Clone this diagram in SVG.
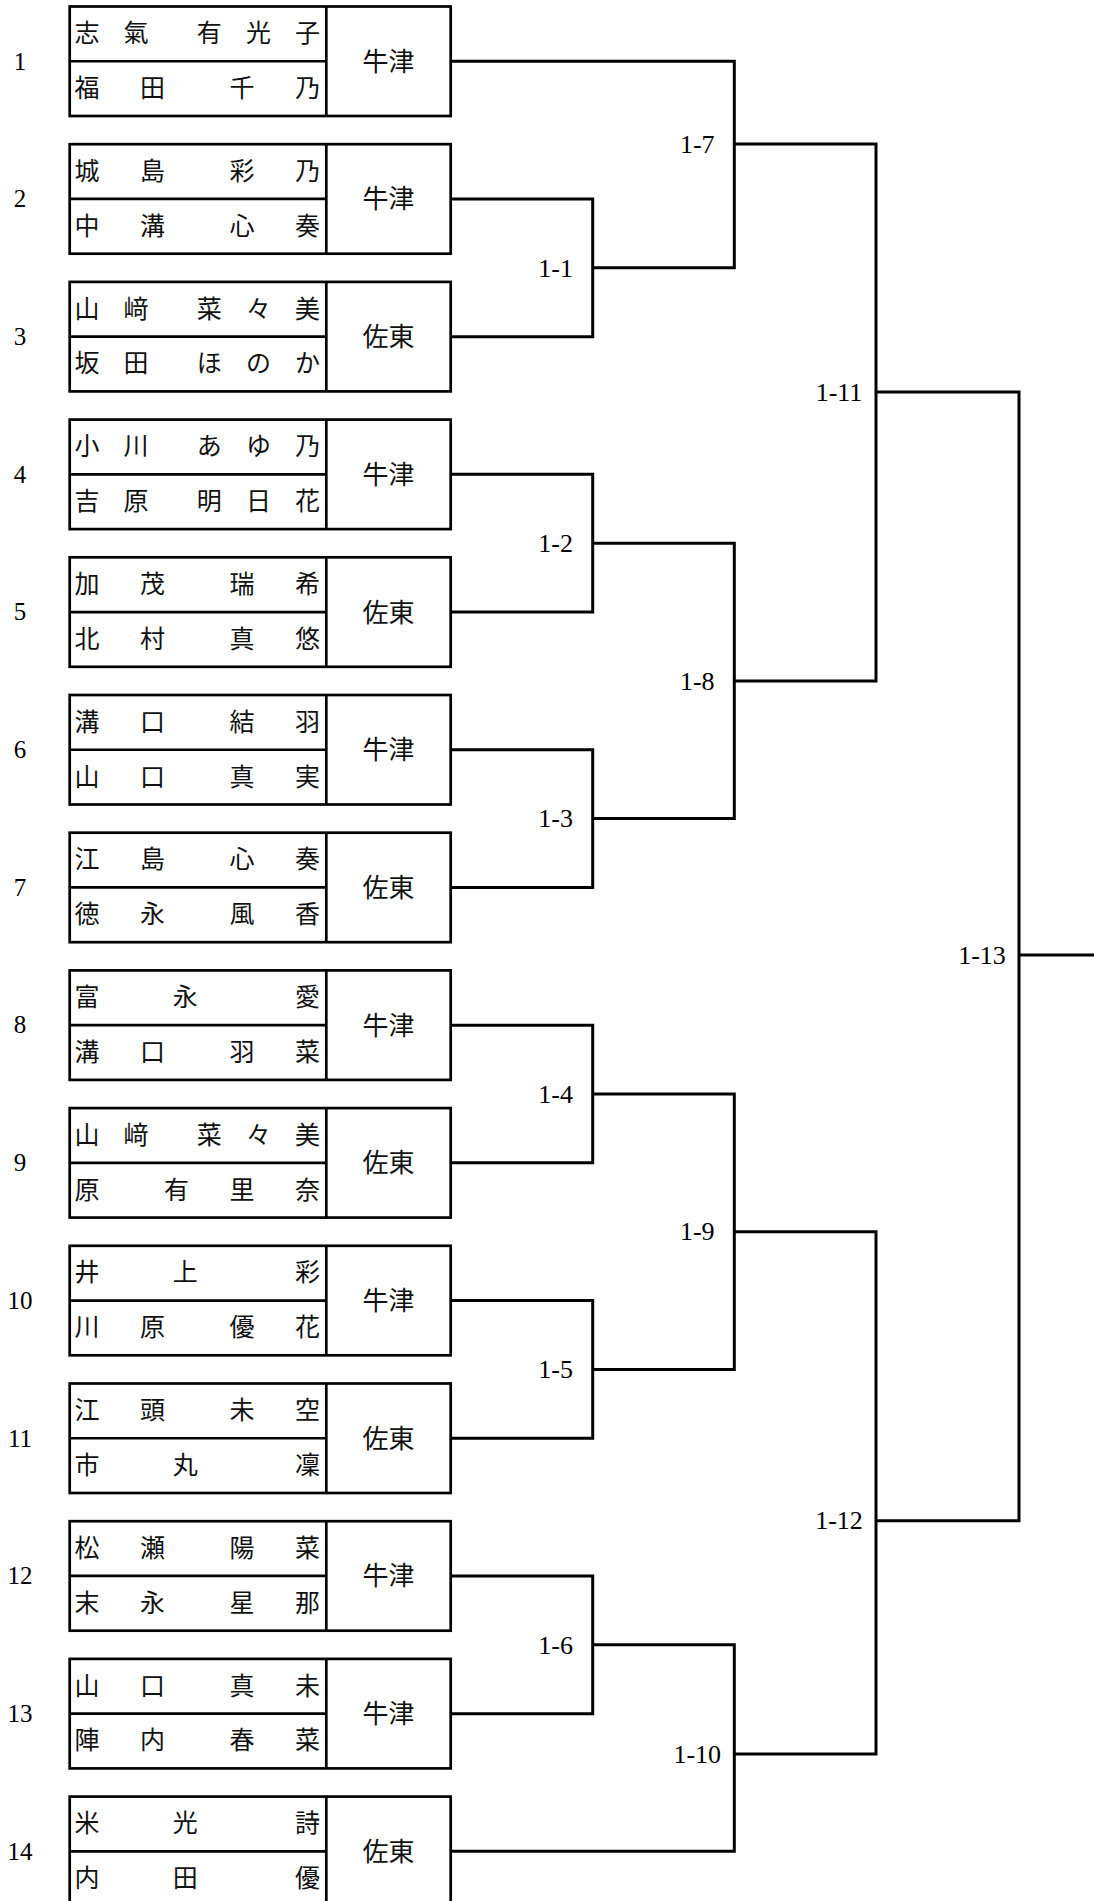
<svg xmlns="http://www.w3.org/2000/svg" width="1094" height="1901" viewBox="0 0 1094 1901">
<style>
.box{fill:#fff;stroke:#000;stroke-width:2.7}
.ln{fill:none;stroke:#000;stroke-width:2.7}
.num{font-family:"Liberation Serif",serif;font-size:25px;fill:#000;text-anchor:middle}
.nm{font-family:"Liberation Serif","Noto Sans CJK JP",serif;font-size:25px;fill:#111}
.tm{font-family:"Liberation Serif","Noto Sans CJK JP",serif;font-size:26px;fill:#111;text-anchor:middle}
.lbl{font-family:"Liberation Serif",serif;font-size:26px;fill:#000;text-anchor:middle}
#connectors path{fill:none;stroke:#000;stroke-width:3}
</style>
<rect width="1094" height="1901" fill="#fff"/>
<g id="connectors">
<path d="M450.7 198.95H592.7V336.65H450.7"/>
<path d="M450.7 474.35H592.7V612.05H450.7"/>
<path d="M450.7 749.75H592.7V887.45H450.7"/>
<path d="M450.7 1025.15H592.7V1162.85H450.7"/>
<path d="M450.7 1300.55H592.7V1438.25H450.7"/>
<path d="M450.7 1575.95H592.7V1713.65H450.7"/>
<path d="M450.7 61.25H734.3V267.8H592.7"/>
<path d="M592.7 543.2H734.3V818.6H592.7"/>
<path d="M592.7 1094H734.3V1369.4H592.7"/>
<path d="M592.7 1644.8H734.3V1851.35H450.7"/>
<path d="M734.3 144H876V680.9H734.3"/>
<path d="M734.3 1231.7H876V1754H734.3"/>
<path d="M876 392H1019V1520.7H876M1019 955H1094"/>
</g>
<g id="match-labels">
<text class="lbl" x="555.7" y="276.5">1-1</text>
<text class="lbl" x="555.7" y="551.9">1-2</text>
<text class="lbl" x="555.7" y="827.3">1-3</text>
<text class="lbl" x="555.7" y="1102.7">1-4</text>
<text class="lbl" x="555.7" y="1378.1">1-5</text>
<text class="lbl" x="555.7" y="1653.5">1-6</text>
<text class="lbl" x="697.3" y="152.7">1-7</text>
<text class="lbl" x="697.3" y="689.6">1-8</text>
<text class="lbl" x="697.3" y="1240.4">1-9</text>
<text class="lbl" x="697.3" y="1762.7">1-10</text>
<text class="lbl" x="839" y="400.7">1-11</text>
<text class="lbl" x="839" y="1529.4">1-12</text>
<text class="lbl" x="982" y="963.7">1-13</text>
</g>
<g id="entry-1" transform="translate(0 6.5)">
<text class="num" x="20" y="63">1</text>
<rect class="box" x="69.7" y="0" width="381" height="109.5"/>
<path class="ln" d="M326.3 0V109.5M69.7 54.75H326.3"/>
<text class="nm" x="74.5 123.6 150 196.75 245.9 295" y="35.7">志氣 有光子</text>
<text class="nm" x="74.5 140 170 229.5 295" y="90.5">福田 千乃</text>
<text class="tm" x="388.5" y="64.25">牛津</text>
</g>
<g id="entry-2" transform="translate(0 144.2)">
<text class="num" x="20" y="63">2</text>
<rect class="box" x="69.7" y="0" width="381" height="109.5"/>
<path class="ln" d="M326.3 0V109.5M69.7 54.75H326.3"/>
<text class="nm" x="74.5 140 170 229.5 295" y="35.7">城島 彩乃</text>
<text class="nm" x="74.5 140 170 229.5 295" y="90.5">中溝 心奏</text>
<text class="tm" x="388.5" y="64.25">牛津</text>
</g>
<g id="entry-3" transform="translate(0 281.9)">
<text class="num" x="20" y="63">3</text>
<rect class="box" x="69.7" y="0" width="381" height="109.5"/>
<path class="ln" d="M326.3 0V109.5M69.7 54.75H326.3"/>
<text class="nm" x="74.5 123.6 150 196.75 245.9 295" y="35.7">山﨑 菜々美</text>
<text class="nm" x="74.5 123.6 150 196.75 245.9 295" y="90.5">坂田 ほのか</text>
<text class="tm" x="388.5" y="64.25">佐東</text>
</g>
<g id="entry-4" transform="translate(0 419.6)">
<text class="num" x="20" y="63">4</text>
<rect class="box" x="69.7" y="0" width="381" height="109.5"/>
<path class="ln" d="M326.3 0V109.5M69.7 54.75H326.3"/>
<text class="nm" x="74.5 123.6 150 196.75 245.9 295" y="35.7">小川 あゆ乃</text>
<text class="nm" x="74.5 123.6 150 196.75 245.9 295" y="90.5">吉原 明日花</text>
<text class="tm" x="388.5" y="64.25">牛津</text>
</g>
<g id="entry-5" transform="translate(0 557.3)">
<text class="num" x="20" y="63">5</text>
<rect class="box" x="69.7" y="0" width="381" height="109.5"/>
<path class="ln" d="M326.3 0V109.5M69.7 54.75H326.3"/>
<text class="nm" x="74.5 140 170 229.5 295" y="35.7">加茂 瑞希</text>
<text class="nm" x="74.5 140 170 229.5 295" y="90.5">北村 真悠</text>
<text class="tm" x="388.5" y="64.25">佐東</text>
</g>
<g id="entry-6" transform="translate(0 695)">
<text class="num" x="20" y="63">6</text>
<rect class="box" x="69.7" y="0" width="381" height="109.5"/>
<path class="ln" d="M326.3 0V109.5M69.7 54.75H326.3"/>
<text class="nm" x="74.5 140 170 229.5 295" y="35.7">溝口 結羽</text>
<text class="nm" x="74.5 140 170 229.5 295" y="90.5">山口 真実</text>
<text class="tm" x="388.5" y="64.25">牛津</text>
</g>
<g id="entry-7" transform="translate(0 832.7)">
<text class="num" x="20" y="63">7</text>
<rect class="box" x="69.7" y="0" width="381" height="109.5"/>
<path class="ln" d="M326.3 0V109.5M69.7 54.75H326.3"/>
<text class="nm" x="74.5 140 170 229.5 295" y="35.7">江島 心奏</text>
<text class="nm" x="74.5 140 170 229.5 295" y="90.5">徳永 風香</text>
<text class="tm" x="388.5" y="64.25">佐東</text>
</g>
<g id="entry-8" transform="translate(0 970.4)">
<text class="num" x="20" y="63">8</text>
<rect class="box" x="69.7" y="0" width="381" height="109.5"/>
<path class="ln" d="M326.3 0V109.5M69.7 54.75H326.3"/>
<text class="nm" x="74.5 172.75 230 295" y="35.7">富永 愛</text>
<text class="nm" x="74.5 140 170 229.5 295" y="90.5">溝口 羽菜</text>
<text class="tm" x="388.5" y="64.25">牛津</text>
</g>
<g id="entry-9" transform="translate(0 1108.1)">
<text class="num" x="20" y="63">9</text>
<rect class="box" x="69.7" y="0" width="381" height="109.5"/>
<path class="ln" d="M326.3 0V109.5M69.7 54.75H326.3"/>
<text class="nm" x="74.5 123.6 150 196.75 245.9 295" y="35.7">山﨑 菜々美</text>
<text class="nm" x="74.5 110 164 229.5 295" y="90.5">原 有里奈</text>
<text class="tm" x="388.5" y="64.25">佐東</text>
</g>
<g id="entry-10" transform="translate(0 1245.8)">
<text class="num" x="20" y="63">10</text>
<rect class="box" x="69.7" y="0" width="381" height="109.5"/>
<path class="ln" d="M326.3 0V109.5M69.7 54.75H326.3"/>
<text class="nm" x="74.5 172.75 230 295" y="35.7">井上 彩</text>
<text class="nm" x="74.5 140 170 229.5 295" y="90.5">川原 優花</text>
<text class="tm" x="388.5" y="64.25">牛津</text>
</g>
<g id="entry-11" transform="translate(0 1383.5)">
<text class="num" x="20" y="63">11</text>
<rect class="box" x="69.7" y="0" width="381" height="109.5"/>
<path class="ln" d="M326.3 0V109.5M69.7 54.75H326.3"/>
<text class="nm" x="74.5 140 170 229.5 295" y="35.7">江頭 未空</text>
<text class="nm" x="74.5 172.75 230 295" y="90.5">市丸 凜</text>
<text class="tm" x="388.5" y="64.25">佐東</text>
</g>
<g id="entry-12" transform="translate(0 1521.2)">
<text class="num" x="20" y="63">12</text>
<rect class="box" x="69.7" y="0" width="381" height="109.5"/>
<path class="ln" d="M326.3 0V109.5M69.7 54.75H326.3"/>
<text class="nm" x="74.5 140 170 229.5 295" y="35.7">松瀬 陽菜</text>
<text class="nm" x="74.5 140 170 229.5 295" y="90.5">末永 星那</text>
<text class="tm" x="388.5" y="64.25">牛津</text>
</g>
<g id="entry-13" transform="translate(0 1658.9)">
<text class="num" x="20" y="63">13</text>
<rect class="box" x="69.7" y="0" width="381" height="109.5"/>
<path class="ln" d="M326.3 0V109.5M69.7 54.75H326.3"/>
<text class="nm" x="74.5 140 170 229.5 295" y="35.7">山口 真未</text>
<text class="nm" x="74.5 140 170 229.5 295" y="90.5">陣内 春菜</text>
<text class="tm" x="388.5" y="64.25">牛津</text>
</g>
<g id="entry-14" transform="translate(0 1796.6)">
<text class="num" x="20" y="63">14</text>
<rect class="box" x="69.7" y="0" width="381" height="109.5"/>
<path class="ln" d="M326.3 0V109.5M69.7 54.75H326.3"/>
<text class="nm" x="74.5 172.75 230 295" y="35.7">米光 詩</text>
<text class="nm" x="74.5 172.75 230 295" y="90.5">内田 優</text>
<text class="tm" x="388.5" y="64.25">佐東</text>
</g>
</svg>
